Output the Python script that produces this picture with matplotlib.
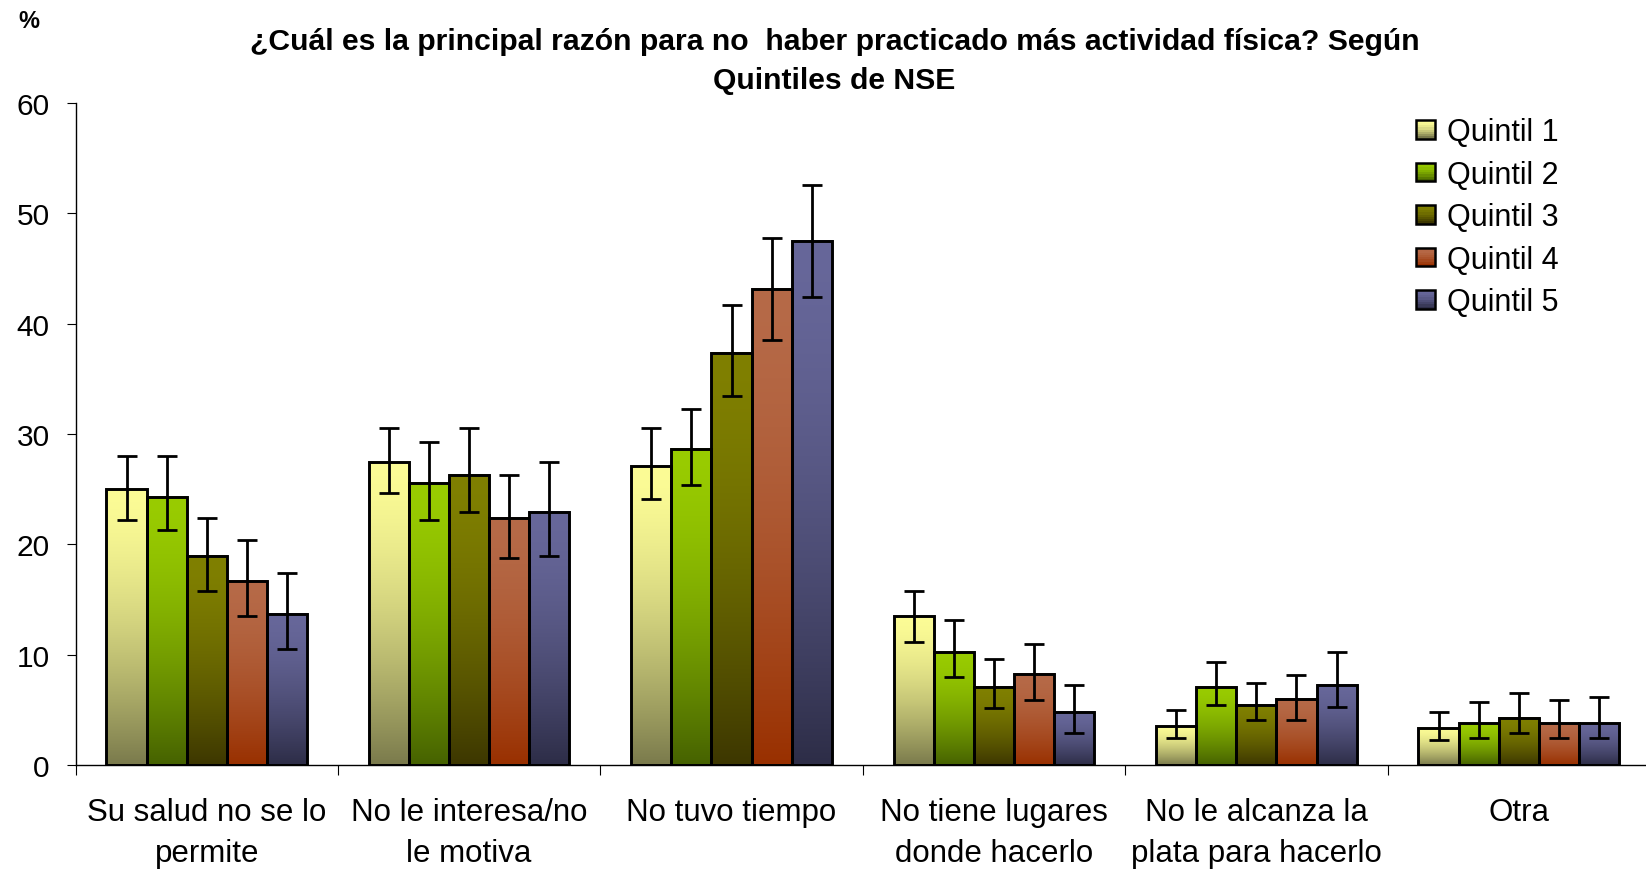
import numpy as np
import matplotlib
matplotlib.use("Agg")
import matplotlib.pyplot as plt
from matplotlib.patches import Rectangle
from matplotlib.legend_handler import HandlerBase
from matplotlib.colors import to_rgb

plt.rcParams['font.family'] = ['Liberation Sans', 'DejaVu Sans']

categories = ["Su salud no se lo\npermite", "No le interesa/no\nle motiva", "No tuvo tiempo",
              "No tiene lugares\ndonde hacerlo", "No le alcanza la\nplata para hacerlo", "Otra"]
series_names = ["Quintil 1", "Quintil 2", "Quintil 3", "Quintil 4", "Quintil 5"]

quintil1 = [25.0, 27.5, 27.1, 13.5, 3.6, 3.4]
quintil2 = [24.3, 25.6, 28.6, 10.3, 7.1, 3.8]
quintil3 = [19.0, 26.3, 37.3, 7.1, 5.5, 4.3]
quintil4 = [16.7, 22.4, 43.1, 8.3, 6.0, 3.8]
quintil5 = [13.7, 22.9, 47.5, 4.8, 7.3, 3.8]

quintil1_low = [22.2, 24.7, 24.1, 11.2, 2.5, 2.3]
quintil2_low = [21.3, 22.2, 25.4, 8.0, 5.5, 2.5]
quintil3_low = [15.8, 22.9, 33.4, 5.2, 4.1, 2.9]
quintil4_low = [13.5, 18.8, 38.5, 5.9, 4.1, 2.5]
quintil5_low = [10.5, 19.0, 42.4, 2.9, 5.3, 2.5]

quintil1_high = [28.0, 30.5, 30.5, 15.8, 5.0, 4.8]
quintil2_high = [28.0, 29.3, 32.3, 13.2, 9.4, 5.7]
quintil3_high = [22.4, 30.5, 41.7, 9.6, 7.5, 6.6]
quintil4_high = [20.4, 26.3, 47.7, 11.0, 8.2, 5.9]
quintil5_high = [17.4, 27.5, 52.5, 7.3, 10.3, 6.2]

yticks = [0, 10, 20, 30, 40, 50, 60]

values = [quintil1, quintil2, quintil3, quintil4, quintil5]
lows = [quintil1_low, quintil2_low, quintil3_low, quintil4_low, quintil5_low]
highs = [quintil1_high, quintil2_high, quintil3_high, quintil4_high, quintil5_high]

top_colors = ["#FCFC96", "#99CC00", "#808000", "#B66A48", "#67679A"]
bottom_colors = ["#7A7A4C", "#466200", "#3D3700", "#993000", "#2D2D47"]
GAMMA = 1.6


def grad_image(top, bottom, n=256):
    t = np.linspace(0, 1, n) ** GAMMA
    a = np.array(to_rgb(top))
    b = np.array(to_rgb(bottom))
    cols = a[None, :] + (b - a)[None, :] * t[:, None]
    return cols[:, None, :]


class GradHandler(HandlerBase):
    def __init__(self, top, bottom):
        super().__init__()
        self.top = top
        self.bottom = bottom

    def create_artists(self, legend, orig_handle, xdescent, ydescent, width, height, fontsize, trans):
        s = min(width, height)
        x0 = -xdescent + (width - s) / 2
        y0 = -ydescent + (height - s) / 2
        n = 8
        arts = []
        img = grad_image(self.top, self.bottom, n)[:, 0, :]
        for k in range(n):
            r = Rectangle((x0, y0 + s - (k + 1) * s / n), s, s / n, facecolor=img[k],
                          edgecolor='none', transform=trans)
            arts.append(r)
        arts.append(Rectangle((x0, y0), s, s, facecolor='none', edgecolor='black',
                              linewidth=1.8, transform=trans))
        return arts


fig = plt.figure(figsize=(16.46, 8.7), dpi=100)
ax = fig.add_axes([0.0459, 0.119, 0.9565, 0.762])

x = np.arange(len(categories))
w = 0.1529
for j in range(5):
    xs = x + (j - 2) * w
    img = grad_image(top_colors[j], bottom_colors[j])
    for xi, v in zip(xs, values[j]):
        ax.imshow(img, extent=[xi - w / 2, xi + w / 2, 0, v], aspect='auto',
                  interpolation='bilinear', zorder=1)
    ax.bar(xs, values[j], width=w, fill=False, edgecolor='black', linewidth=2.1, zorder=2)
    v = np.array(values[j])
    yerr = [v - np.array(lows[j]), np.array(highs[j]) - v]
    ax.errorbar(xs, v, yerr=yerr, fmt='none', ecolor='black', elinewidth=2.0,
                capsize=7.0, capthick=2.0, zorder=3)

ax.set_xlim(-0.5, len(categories) - 0.5)
ax.set_ylim(0, 60)
ax.set_yticks(yticks)
ax.set_yticklabels([str(t) for t in yticks], fontsize=21.5)
ax.tick_params(axis='y', direction='out', length=6.5, width=0.8, pad=12)

ax.set_xticks(np.arange(-0.5, len(categories), 1.0))
ax.set_xticklabels([])
ax.set_xticks(x, minor=True)
ax.set_xticklabels(categories, minor=True, fontsize=22.5)
for lbl in ax.get_xticklabels(minor=True):
    lbl.set_linespacing(1.45)
ax.tick_params(axis='x', which='major', direction='out', length=7.5, width=0.8)
ax.tick_params(axis='x', which='minor', length=0, pad=23)

for s in ['top', 'right']:
    ax.spines[s].set_visible(False)
for s in ['left', 'bottom']:
    ax.spines[s].set_linewidth(1.0)

handles = [Rectangle((0, 0), 1, 1) for _ in range(5)]
hmap = {h: GradHandler(top_colors[j], bottom_colors[j]) for j, h in enumerate(handles)}
fig.legend(handles, series_names, handler_map=hmap, loc='upper left',
           bbox_to_anchor=(0.8605, 0.864), frameon=False, fontsize=22,
           handlelength=0.6, handleheight=0.6, handletextpad=0.4,
           labelspacing=0.41, borderpad=0, borderaxespad=0)

fig.text(0.507, 0.929,
         "¿Cuál es la principal razón para no  haber practicado más actividad física? Según\nQuintiles de NSE",
         ha='center', va='center', fontsize=21.7, fontweight='bold', linespacing=1.5)
fig.text(0.011, 0.975, "%", ha='left', va='center', fontsize=17, fontweight='bold')

fig.savefig("out.png", dpi=100)
